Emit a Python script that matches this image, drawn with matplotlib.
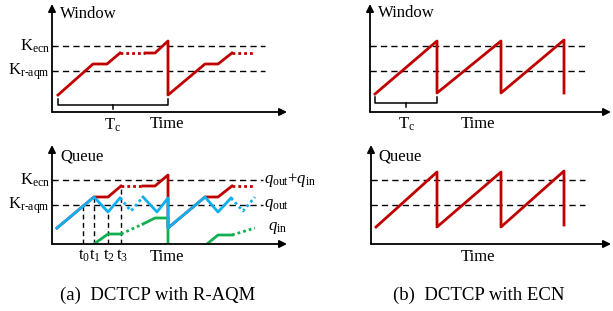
import matplotlib
matplotlib.use("Agg")
import matplotlib.pyplot as plt

plt.rcParams['font.family'] = ['Liberation Serif', 'DejaVu Serif']
plt.rcParams['mathtext.fontset'] = 'custom'
plt.rcParams['mathtext.rm'] = 'Liberation Serif'
plt.rcParams['mathtext.it'] = 'Liberation Serif:italic'

# ---------------- data (time units, level units) ----------------
# (a) top: window with R-AQM
a_k_ecn, a_k_raqm = 6.6, 4.1
a_win_t1 = [0.6, 4.1, 5.5, 6.8]
a_win_v1 = [1.7, 4.8, 4.8, 5.9]
a_win_dot1_t = [6.8, 9.3]
a_win_dot1_v = [5.9, 5.9]
a_win_t2 = [9.3, 10.3, 11.6, 11.6, 15.3, 16.6, 18.0]
a_win_v2 = [5.9, 5.9, 7.1, 1.7, 4.8, 4.8, 5.9]
a_win_dot2_t = [18.0, 20.3]
a_win_dot2_v = [5.9, 5.9]
a_tc = (0.6, 11.6)

# (a) bottom: queue with R-AQM
aq_k_ecn, aq_k_raqm = 6.4, 3.9
red_t1 = [0.5, 4.2, 5.6, 6.9]
red_v1 = [1.6, 4.7, 4.7, 5.8]
red_dot1_t = [6.9, 9.1]
red_dot1_v = [5.8, 5.8]
red_t2 = [9.1, 10.3, 11.6, 11.6, 15.3, 16.6, 18.0]
red_v2 = [5.8, 5.8, 6.9, 1.6, 4.7, 4.7, 5.8]
red_dot2_t = [18.0, 20.3]
red_dot2_v = [5.8, 5.8]

blue_t1 = [0.5, 4.2, 5.6, 6.8]
blue_v1 = [1.6, 4.7, 3.2, 4.6]
blue_dot1_t = [6.8, 7.9, 9.1]
blue_dot1_v = [4.6, 3.3, 4.7]
blue_t2 = [9.1, 10.5, 11.6, 11.6, 15.3, 16.6, 17.9]
blue_v2 = [4.7, 3.2, 4.6, 1.6, 4.7, 3.2, 4.6]
blue_dot2_t = [17.9, 19.1, 20.3]
blue_dot2_v = [4.6, 3.3, 4.7]

green_t1 = [4.2, 5.6, 6.9]
green_v1 = [0.0, 1.0, 1.0]
green_dot1_t = [6.9, 9.1]
green_dot1_v = [1.0, 2.0]
green_t2 = [9.1, 10.3, 11.6, 11.6]
green_v2 = [2.0, 2.6, 2.6, 0.0]
green_t3 = [15.5, 16.6, 18.0]
green_v3 = [0.0, 0.9, 0.9]
green_dot3_t = [18.0, 20.3]
green_dot3_v = [0.9, 1.6]

tick_times = [3.1, 4.2, 5.6, 6.9]
tick_tops = [3.9, 4.7, 3.2, 5.8]
tick_labels = ['t$_0$', 't$_1$', 't$_2$', 't$_3$']

# (b) top: window with ECN
b_k_ecn, b_k_raqm = 6.6, 4.1
b_win_t = [0.5, 6.7, 6.7, 13.1, 13.1, 19.4, 19.4]
b_win_v = [1.8, 7.1, 1.9, 7.1, 1.9, 7.2, 1.9]
b_tc = (0.5, 6.7)

# (b) bottom: queue with ECN
bq_k_ecn, bq_k_raqm = 6.4, 3.9
b_q_t = [0.5, 6.6, 6.6, 13.0, 13.0, 19.3, 19.3]
b_q_v = [1.7, 7.2, 1.7, 7.2, 1.7, 7.3, 1.9]

# ---------------- styles ----------------
RED = '#C00000'
BLUE = '#10B0F0'
GREEN = '#10B050'
LW = 2.0
DOT = (0, (1.0, 1.1))
FS = 12

W, H = 613, 311
fig = plt.figure(figsize=(W / 100, H / 100), dpi=100)


def make_ax(ox, oy, right, top):
    ax = fig.add_axes([ox / W, (H - oy) / H, (right - ox) / W, (oy - top) / H])
    ax.set_xlim(0, (right - ox) / 10)
    ax.set_ylim(0, (oy - top) / 10)
    ax.axis('off')
    return ax


def axes_arrows(ax, xmax, ymax):
    ap = dict(arrowstyle='-|>', lw=1.3, color='k', mutation_scale=11,
              shrinkA=0, shrinkB=0)
    ax.annotate('', xy=(xmax, 0), xytext=(0, 0), arrowprops=ap,
                annotation_clip=False)
    ax.annotate('', xy=(0, ymax), xytext=(0, 0), arrowprops=ap,
                annotation_clip=False)


def hdash(ax, y, x1):
    ax.plot([0, x1], [y, y], color='k', lw=1.0, ls=(0, (4.5, 3)),
            clip_on=False)


def bracket(ax, t0, t1, y):
    tm = (t0 + t1) / 2
    ax.plot([t0, t0, t1, t1], [y + 0.6, y, y, y + 0.6], color='k', lw=1.1,
            clip_on=False)
    ax.plot([tm, tm], [y, y - 0.4], color='k', lw=1.1, clip_on=False)


def klabels(ax, kecn, kr):
    ax.text(-0.2, kecn, r'K$_{\mathrm{ecn}}$', ha='right', va='center',
            fontsize=FS)
    ax.text(-0.2, kr - 0.1, r'K$_{\mathrm{r\text{-}aqm}}$', ha='right',
            va='center', fontsize=FS)


# ---- (a) top ----
ax = make_ax(52, 112, 290, 2)
axes_arrows(ax, 23.5, 10.8)
hdash(ax, a_k_ecn, 21.3)
hdash(ax, a_k_raqm, 21.3)
ax.plot(a_win_t1, a_win_v1, color=RED, lw=LW, clip_on=False)
ax.plot(a_win_dot1_t, a_win_dot1_v, color=RED, lw=LW, ls=DOT)
ax.plot(a_win_t2, a_win_v2, color=RED, lw=LW, clip_on=False)
ax.plot(a_win_dot2_t, a_win_dot2_v, color=RED, lw=LW, ls=DOT)
bracket(ax, a_tc[0], a_tc[1], 0.7)
ax.text(0.8, 9.8, 'Window', ha='left', va='center', fontsize=FS)
ax.text(11.5, -1.2, 'Time', ha='center', va='center', fontsize=FS)
ax.text(6.1, -1.3, r'T$_{\mathrm{c}}$', ha='center', va='center', fontsize=FS)
klabels(ax, a_k_ecn, a_k_raqm)

# ---- (a) bottom ----
ax = make_ax(52, 244, 290, 134)
axes_arrows(ax, 23.5, 9.9)
hdash(ax, aq_k_ecn, 21.1)
hdash(ax, aq_k_raqm, 21.1)
for tt, top in zip(tick_times, tick_tops):
    ax.plot([tt, tt], [0, top], color='k', lw=1.0, ls=(0, (3.5, 2.5)))
for tt, lab in zip(tick_times, tick_labels):
    ax.text(tt + 0.1, -1.2, lab, ha='center', va='center', fontsize=FS)
ax.plot(red_t1, red_v1, color=RED, lw=LW)
ax.plot(red_dot1_t, red_dot1_v, color=RED, lw=LW, ls=DOT)
ax.plot(red_t2, red_v2, color=RED, lw=LW)
ax.plot(red_dot2_t, red_dot2_v, color=RED, lw=LW, ls=DOT)
ax.plot(green_t1, green_v1, color=GREEN, lw=LW)
ax.plot(green_dot1_t, green_dot1_v, color=GREEN, lw=LW, ls=DOT)
ax.plot(green_t2, green_v2, color=GREEN, lw=LW)
ax.plot(green_t3, green_v3, color=GREEN, lw=LW)
ax.plot(green_dot3_t, green_dot3_v, color=GREEN, lw=LW, ls=DOT)
ax.plot(blue_t1, blue_v1, color=BLUE, lw=LW)
ax.plot(blue_dot1_t, blue_dot1_v, color=BLUE, lw=LW, ls=DOT)
ax.plot(blue_t2, blue_v2, color=BLUE, lw=LW)
ax.plot(blue_dot2_t, blue_dot2_v, color=BLUE, lw=LW, ls=DOT)
ax.text(0.8, 8.7, 'Queue', ha='left', va='center', fontsize=FS)
ax.text(11.5, -1.3, 'Time', ha='center', va='center', fontsize=FS)
klabels(ax, aq_k_ecn, aq_k_raqm)
ax.text(21.2, aq_k_ecn, r'$q_{\mathrm{out}}$+$q_{\mathrm{in}}$', ha='left',
        va='center', fontsize=FS)
ax.text(21.2, aq_k_raqm, r'$q_{\mathrm{out}}$', ha='left', va='center',
        fontsize=FS)
ax.text(21.6, 1.6, r'$q_{\mathrm{in}}$', ha='left', va='center', fontsize=FS)
ax.text(10.6, -5.1, '(a)  DCTCP with R-AQM', ha='center', va='center',
        fontsize=13.5)

# ---- (b) top ----
ax = make_ax(370, 112, 612, 2)
axes_arrows(ax, 24.1, 10.8)
hdash(ax, b_k_ecn, 21.5)
hdash(ax, b_k_raqm, 21.5)
ax.plot(b_win_t, b_win_v, color=RED, lw=LW)
bracket(ax, b_tc[0], b_tc[1], 0.9)
ax.text(0.8, 9.9, 'Window', ha='left', va='center', fontsize=FS)
ax.text(10.8, -1.2, 'Time', ha='center', va='center', fontsize=FS)
ax.text(3.7, -1.2, r'T$_{\mathrm{c}}$', ha='center', va='center', fontsize=FS)

# ---- (b) bottom ----
ax = make_ax(371, 244, 612, 134)
axes_arrows(ax, 24.0, 9.9)
hdash(ax, bq_k_ecn, 21.4)
hdash(ax, bq_k_raqm, 21.4)
ax.plot(b_q_t, b_q_v, color=RED, lw=LW)
ax.text(0.7, 8.7, 'Queue', ha='left', va='center', fontsize=FS)
ax.text(10.7, -1.3, 'Time', ha='center', va='center', fontsize=FS)
ax.text(10.8, -5.1, '(b)  DCTCP with ECN', ha='center', va='center',
        fontsize=13.5)

fig.savefig('out.png', dpi=100)
